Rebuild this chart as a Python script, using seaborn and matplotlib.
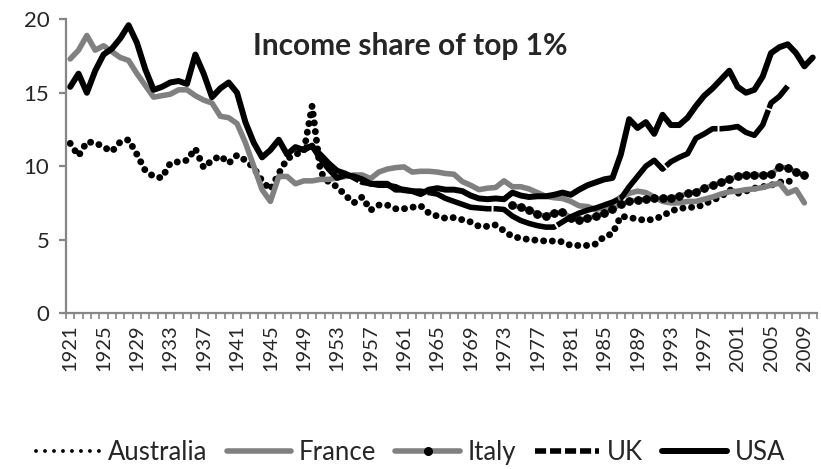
import numpy as np
import pandas as pd
import seaborn as sns
import matplotlib.pyplot as plt
from matplotlib.lines import Line2D

sns.set_style('white')
plt.rcParams['font.family'] = ['Lato', 'DejaVu Sans']

# income share of top 1% (%)
years = list(range(1921, 2011))

australia = [11.55, 10.7, 11.65, 11.6, 11.3, 11.0, 11.65, 11.8, 10.8, 9.7,
             9.3, 9.2, 10.2, 10.3, 10.4, 11.2, 9.9, 10.4, 10.7, 10.2,
             10.75, 10.4, 9.9, 9.0, 8.4, 9.5, 10.5, 10.8, 11.0, 14.1,
             9.6, 8.9, 8.6, 8.0, 7.5, 7.9, 7.0, 7.35, 7.35, 7.1,
             7.1, 7.2, 7.3, 6.8, 6.6, 6.45, 6.5, 6.35, 6.2, 5.9,
             5.9, 6.0, 5.6, 5.2, 5.1, 5.0, 4.95, 4.9, 4.9, 4.85,
             4.6, 4.6, 4.6, 4.7, 5.2, 5.4, 6.6, 6.5, 6.4, 6.3,
             6.4, 6.6, 6.95, 7.1, 7.2, 7.2, 7.4, 7.7, 7.9, 8.4,
             8.15, 8.3, 8.5, 8.6, 8.7, 8.9, 9.0, 8.85, None, None]

france = [17.3, 17.9, 18.9, 17.9, 18.2, 17.8, 17.4, 17.2, 16.3, 15.5,
          14.7, 14.8, 14.9, 15.2, 15.2, 14.8, 14.5, 14.3, 13.4, 13.3,
          12.9, 11.6, 10.0, 8.4, 7.6, 9.3, 9.3, 8.8, 9.0, 9.0,
          9.1, 9.1, 9.2, 9.3, 9.4, 9.4, 9.15, 9.6, 9.8, 9.9,
          9.95, 9.6, 9.65, 9.65, 9.6, 9.5, 9.45, 8.95, 8.7, 8.4,
          8.5, 8.55, 9.0, 8.6, 8.6, 8.45, 8.2, 7.95, 7.85, 7.8,
          7.6, 7.3, 7.25, 7.05, 7.2, 7.5, 7.9, 8.15, 8.3, 8.2,
          7.9, 7.6, 7.5, 7.5, 7.6, 7.6, 7.75, 7.9, 8.1, 8.25,
          8.3, 8.4, 8.45, 8.55, 8.7, 8.85, 8.15, 8.4, 7.5, None]

italy = [None] * 53 + [
    7.35, 7.2, 7.0, 6.75, 6.6, 6.8, 6.9,
    6.5, 6.35, 6.45, 6.6, 6.8, 7.1, 7.4, 7.6, 7.7, 7.75,
    7.8, 7.8, 7.85, 7.95, 8.15, 8.25, 8.5, 8.7, 8.9, 9.1,
    9.3, 9.4, 9.4, 9.4, 9.45, 9.95, 9.9, 9.6, 9.4, None]

uk = [None] * 28 + [
    11.3, 11.3,
    10.8, 10.2, 9.7, 9.5, 9.2, 8.9, 8.8, 8.7, 8.7, 8.6,
    8.35, 8.3, 8.3, 8.2, 8.1, 7.8, 7.6, 7.4, 7.2, 7.15,
    7.1, 7.1, 7.05, 6.6, 6.3, 6.1, 5.95, 5.85, 5.85, 6.2,
    6.55, 6.8, 7.0, 7.15, 7.35, 7.55, 7.8, 8.6, 9.3, 10.0,
    10.4, 9.8, 10.3, 10.6, 10.85, 11.9, 12.2, 12.55, 12.55, 12.6,
    12.7, 12.3, 12.1, 12.8, 14.3, 14.75, 15.45, None, None, None]

usa = [15.4, 16.3, 15.0, 16.5, 17.6, 18.0, 18.7, 19.6, 18.4, 16.6,
       15.2, 15.4, 15.7, 15.8, 15.6, 17.6, 16.3, 14.7, 15.3, 15.7,
       15.0, 13.0, 11.6, 10.6, 11.1, 11.8, 10.8, 11.3, 11.1, 11.4,
       10.5, 9.8, 9.2, 9.4, 9.3, 9.1, 8.8, 8.8, 8.8, 8.4,
       8.4, 8.3, 8.1, 8.4, 8.5, 8.4, 8.4, 8.3, 8.0, 7.8,
       7.75, 7.8, 7.75, 8.2, 8.0, 7.9, 7.95, 7.95, 8.05, 8.2,
       8.05, 8.4, 8.7, 8.9, 9.1, 9.2, 10.8, 13.2, 12.6, 13.0,
       12.2, 13.5, 12.8, 12.8, 13.3, 14.1, 14.8, 15.3, 15.9, 16.5,
       15.4, 15.0, 15.2, 16.1, 17.7, 18.1, 18.3, 17.7, 16.8, 17.4]

countries = ['Australia', 'France', 'Italy', 'UK', 'USA']
series = [australia, france, italy, uk, usa]

rows = []
for name, vals in zip(countries, series):
    for yr, v in zip(years, vals):
        if v is not None:
            rows.append((name, yr, v))
df = pd.DataFrame(rows, columns=['country', 'year', 'share'])

grey = '#808080'
styles = {
    'Australia': dict(color='black', lw=5.0, linestyle=(0, (0.01, 1.25)),
                      dash_capstyle='round'),
    'France': dict(color=grey, lw=4.0),
    'Italy': dict(color=grey, lw=3.5, marker='o', markersize=5.5,
                  markerfacecolor='black', markeredgecolor='black'),
    'UK': dict(color='black', lw=4.0, linestyle=(0, (12, 0.35))),
    'USA': dict(color='black', lw=4.3),
}

fig = plt.figure(figsize=(8.21, 4.69), dpi=100)
ax = fig.add_axes([0.0804, 0.3326, 0.9146, 0.6262])

for i, c in enumerate(countries):
    sns.lineplot(data=df[df['country'] == c], x='year', y='share', ax=ax,
                 zorder=2 + i, legend=False, **styles[c])

ax.set_xlim(1920.5, 2010.5)
ax.set_ylim(0, 20)
ax.set_yticks([0, 5, 10, 15, 20])
ax.set_xticks(years[::4])
ax.set_xticklabels([str(y) for y in years[::4]], rotation=90)
ax.set_xticks(np.arange(1920.5, 2011, 1), minor=True)
ax.set_xlabel('')
ax.set_ylabel('')

axis_col = '#868686'
for side in ['top', 'right']:
    ax.spines[side].set_visible(False)
for side in ['left', 'bottom']:
    ax.spines[side].set_color(axis_col)
    ax.spines[side].set_linewidth(1.6)

ax.tick_params(axis='y', which='major', direction='out', length=5, width=1.6,
               color=axis_col, labelsize=16, pad=7, left=True)
ax.tick_params(axis='x', which='major', length=0, labelsize=14.5, pad=8)
ax.tick_params(axis='x', which='minor', direction='out', length=4, width=1.2,
               color=axis_col, bottom=True)

ax.text(0.458, 0.91, 'Income share of top 1%', transform=ax.transAxes,
        ha='center', va='center', fontsize=21.5, fontweight='bold')

# legend handles
handles = [
    Line2D([], [], color='black', lw=2.8, linestyle=(0, (0.01, 2.3)),
           dash_capstyle='round'),
    Line2D([], [], color=grey, lw=4.0),
    Line2D([], [], color=grey, lw=4.0, marker='o', markersize=5.5,
           markerfacecolor='black', markeredgecolor='black'),
    Line2D([], [], color='black', lw=4.0, linestyle=(0, (2.0, 0.7))),
    Line2D([], [], color='black', lw=4.3),
]
fig.legend(handles, countries, loc='center', bbox_to_anchor=(0.5, 0.036),
           ncol=5, frameon=False, fontsize=18.5, handlelength=2.5,
           handletextpad=0.3, columnspacing=0.75)

fig.savefig('out.png', dpi=100)
